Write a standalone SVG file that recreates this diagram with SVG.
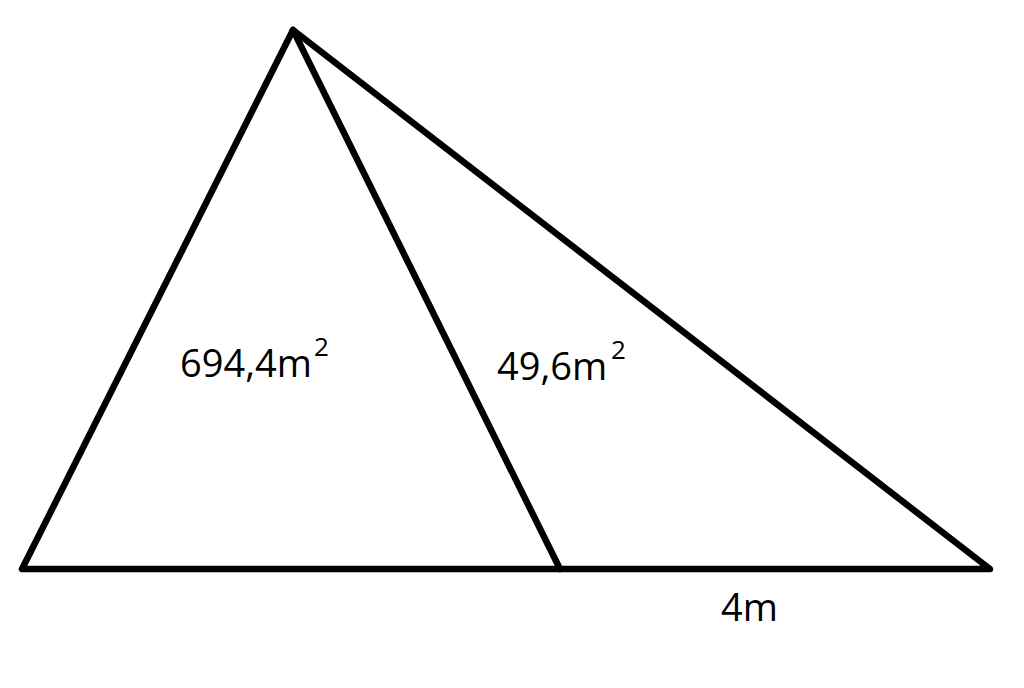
<svg xmlns="http://www.w3.org/2000/svg" width="1024" height="688" viewBox="0 0 1024 688">
<style>
.ln{stroke:#000;stroke-width:6.5;fill:none;stroke-linecap:round;stroke-linejoin:round}
.t{font-family:"Open Sans","Liberation Sans",Arial,sans-serif;font-size:38px;fill:#000}
.s{font-family:"Open Sans","Liberation Sans",Arial,sans-serif;font-size:26px;fill:#000}
</style>
<rect width="1024" height="688" fill="#fff"/>
<g id="connectors">
<path class="ln" d="M293,30 L22,569 L990,569 Z"/>
<path class="ln" d="M293,30 L560,569"/>
</g>
<g id="label-left">
<text class="t" x="180" y="377">694,4m</text>
<text class="s" x="314" y="356">2</text>
</g>
<g id="label-right">
<text class="t" x="497" y="380">49,6m</text>
<text class="s" x="611" y="359">2</text>
</g>
<g id="label-bottom">
<text class="t" x="721" y="621">4m</text>
</g>
</svg>
